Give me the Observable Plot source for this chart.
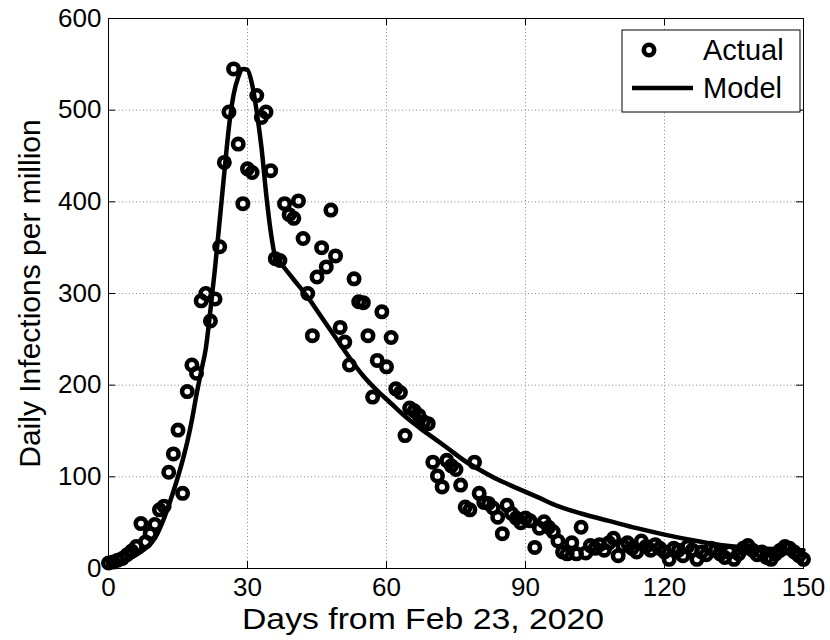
<!DOCTYPE html>
<html><head><meta charset="utf-8">
<script src="https://cdn.jsdelivr.net/npm/d3@7"></script>
<script src="https://cdn.jsdelivr.net/npm/@observablehq/plot@0.6"></script>
<style>body{margin:0;background:#fff}</style>
</head><body><div id="chart"></div>
<script>
// Actual daily infections per million, one value per day from day 0 to day 150
const actualValues = [
  6, 7, 9, 11, 15, 19, 24, 49, 29, 38,
  48, 64, 68, 105, 125, 151, 82, 193, 222, 213,
  292, 300, 270, 294, 351, 443, 498, 545, 463, 398,
  436, 432, 516, 492, 498, 434, 338, 336, 398, 386,
  382, 401, 360, 300, 254, 318, 350, 329, 391, 341,
  263, 247, 222, 316, 291, 290, 254, 187, 227, 280,
  220, 252, 196, 192, 145, 175, 172, 167, 160, 158,
  116, 101, 89, 118, 112, 108, 91, 67, 64, 116,
  82, 72, 71, 66, 56, 38, 69, 60, 55, 50,
  55, 52, 23, 44, 51, 45, 40, 30, 18, 16,
  28, 16, 45, 17, 25, 22, 26, 20, 28, 33,
  14, 25, 28, 22, 18, 30, 24, 20, 26, 22,
  18, 10, 22, 20, 14, 24, 20, 10, 18, 15,
  22, 20, 16, 12, 18, 10, 16, 22, 25, 20,
  15, 18, 12, 10, 16, 20, 24, 22, 18, 14, 10
];
const actualDays = actualValues.map((_, i) => i);

// Model curve, read at these days
const modelDays = [0, 2, 4, 6, 8, 10, 12, 14, 16, 17, 18, 19, 20, 21, 22, 23, 24, 25, 26, 27, 28, 29, 30, 31, 32, 33, 34, 35, 36, 37, 40, 43, 46, 49, 52, 55, 58, 61, 64, 67, 70, 73, 77, 80, 84, 88, 93, 97, 102, 108, 114, 120, 127, 133, 140, 145, 150];
const modelValues = [5, 7, 10, 15, 22, 33, 55, 84, 118, 138, 162, 190, 215, 240, 282, 328, 380, 432, 482, 517, 536, 545, 544, 528, 498, 460, 410, 368, 340, 334, 315, 296, 274, 252, 230, 210, 194, 180, 166, 154, 143, 132, 117, 108, 97, 88, 77, 68, 60, 52, 44, 37, 30, 25, 22, 21, 20];

const xTicks = [0, 30, 60, 90, 120, 150];
const yTicks = [0, 100, 200, 300, 400, 500, 600];
const xLabel = "Days from Feb 23, 2020";
const yLabel = "Daily Infections per million";
const legendLabels = ["Actual", "Model"];

const actual = actualDays.map((d, i) => ({day: d, value: actualValues[i]}));
const model = modelDays.map((d, i) => ({day: d, value: modelValues[i]}));

const W = 830, H = 640, mL = 108, mR = 27, mT = 18, mB = 72;
const pw = W - mL - mR, ph = H - mT - mB;
const font = "'Liberation Sans', Arial, Helvetica, sans-serif";

const chart = Plot.plot({
  width: W, height: H,
  marginLeft: mL, marginRight: mR, marginTop: mT, marginBottom: mB,
  style: {fontFamily: font, color: "#000", background: "#fff", overflow: "visible"},
  x: {domain: [0, 150]},
  y: {domain: [0, 600]},
  marks: [
    Plot.ruleX(xTicks.slice(1, -1), {x: d => d, stroke: "#888", strokeWidth: 1, strokeDasharray: "1,2.5"}),
    Plot.ruleY(yTicks.slice(1, -1), {y: d => d, stroke: "#888", strokeWidth: 1, strokeDasharray: "1,2.5"}),
    Plot.tickX(xTicks, {x: d => d, insetTop: ph - 7, stroke: "#000"}),
    Plot.tickX(xTicks, {x: d => d, insetBottom: ph - 7, stroke: "#000"}),
    Plot.tickY(yTicks, {y: d => d, insetRight: pw - 7, stroke: "#000"}),
    Plot.tickY(yTicks, {y: d => d, insetLeft: pw - 7, stroke: "#000"}),
    Plot.line(model, {x: "day", y: "value", stroke: "#000", strokeWidth: 4.5, curve: "monotone-x"}),
    Plot.dot(actual, {x: "day", y: "value", r: 5.2, stroke: "#000", strokeWidth: 4.6, fill: "none"}),
    Plot.axisX(xTicks, {tickSize: 0, tickPadding: 9, fontSize: 26, label: null}),
    Plot.axisY(yTicks, {tickSize: 0, tickPadding: 7, fontSize: 26, label: null}),
    Plot.text([xLabel], {text: d => d, frameAnchor: "bottom", dx: -33, dy: 51, fontSize: 30, lineAnchor: "middle", textAnchor: "middle"}),
    Plot.text([yLabel], {text: d => d, frameAnchor: "left", dx: -78, rotate: -90, fontSize: 30, lineAnchor: "middle", textAnchor: "middle"}),
    Plot.frame({stroke: "#000", strokeWidth: 1})
  ]
});
document.getElementById("chart").appendChild(chart);

const svg = d3.select(chart);
// widen the horizontal axis title to match the reference proportions
svg.selectAll("text").filter(function() { return this.textContent === xLabel; })
  .attr("textLength", 362).attr("lengthAdjust", "spacingAndGlyphs");

// Legend inside the plot, top-right
const g = svg.append("g").attr("font-family", font).attr("font-size", 29).attr("text-anchor", "start");
g.append("rect").attr("x", 622).attr("y", 30).attr("width", 178).attr("height", 82)
  .attr("fill", "#fff").attr("stroke", "#000").attr("stroke-width", 1);
g.append("circle").attr("cx", 649).attr("cy", 50).attr("r", 5.2)
  .attr("fill", "none").attr("stroke", "#000").attr("stroke-width", 4.6);
g.append("text").attr("x", 703).attr("y", 50).attr("dy", "0.35em").text(legendLabels[0]);
g.append("line").attr("x1", 632).attr("x2", 693).attr("y1", 88).attr("y2", 88)
  .attr("stroke", "#000").attr("stroke-width", 4.5);
g.append("text").attr("x", 703).attr("y", 88).attr("dy", "0.35em").text(legendLabels[1]);
</script>
</body></html>
